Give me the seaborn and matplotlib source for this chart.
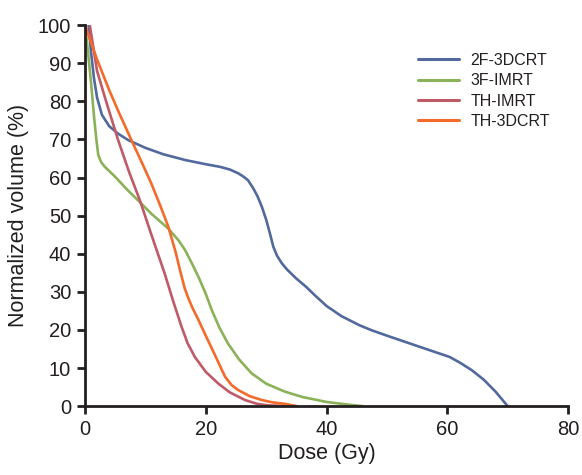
import matplotlib
matplotlib.use("Agg")
import matplotlib.pyplot as plt
import seaborn as sns
import pandas as pd

dose_2f = [0.6, 1.0, 1.5, 2.0, 2.8, 4.0, 5.5, 7.2, 10, 13, 16.6, 20, 22.4, 24, 25.4, 26.2, 27.0, 27.9, 28.6, 29.3, 30.0, 30.6, 31.2, 31.8, 32.6, 33.5, 35, 36.7, 38, 40, 42.5, 45.5, 47.5, 50, 55, 60.4, 62, 64, 66, 68, 70]
vol_2f = [100, 93, 86, 81, 76.5, 73.5, 71.5, 69.8, 67.8, 66.1, 64.6, 63.5, 62.8, 62.1, 61.1, 60.3, 59.3, 57.1, 55, 52.3, 49, 45.5, 41.8, 39.5, 37.5, 35.8, 33.5, 31.2, 29.2, 26.3, 23.6, 21.2, 19.9, 18.5, 15.8, 12.9, 11.5, 9.5, 7, 3.8, 0]

dose_3f = [0, 0.5, 1.0, 1.5, 1.9, 2.2, 2.7, 3.3, 5, 7, 8.8, 11, 13.8, 15.5, 16.6, 17.7, 18.8, 20, 21, 22.3, 23.7, 25.5, 27.6, 30, 33.1, 36, 40, 43, 46]
vol_3f = [100, 93, 85, 76, 69.8, 65.9, 64, 62.8, 60.2, 56.8, 54, 50.5, 46.6, 43.5, 40.9, 37.5, 33.9, 29.5, 25.2, 20.5, 16.4, 12.3, 8.6, 5.9, 3.8, 2.4, 1.1, 0.5, 0]

dose_thi = [0.8, 2, 3.5, 5.5, 7.3, 9.1, 11, 13.2, 14.6, 16, 17, 18.2, 20, 22.1, 24, 26.5, 28.5, 30.3, 33, 35]
vol_thi = [100, 88, 80, 69.8, 61.5, 54, 45, 34.8, 27.6, 20.8, 16.5, 12.9, 9, 5.9, 3.6, 1.6, 0.6, 0.2, 0.05, 0]

dose_th3 = [0, 1, 2, 3, 4, 5.5, 7.7, 9.4, 11, 12.5, 13.8, 15, 15.8, 16.5, 17.1, 17.8, 18.8, 20, 21.5, 23.2, 24.3, 25.4, 27.3, 29.3, 31, 33.1, 35]
vol_th3 = [100, 95.5, 91, 87, 83, 77.5, 69.8, 64, 58.4, 52.5, 47.1, 40.5, 35.3, 31, 28.4, 25.8, 22.6, 18.5, 13.5, 7.7, 5.5, 4.2, 2.6, 1.6, 1.0, 0.6, 0]

labels = ["2F-3DCRT", "3F-IMRT", "TH-IMRT", "TH-3DCRT"]
colors = ["#52699d", "#8bb258", "#bf5a66", "#f46a2a"]

frames = []
for lab, d, v in zip(labels, [dose_2f, dose_3f, dose_thi, dose_th3], [vol_2f, vol_3f, vol_thi, vol_th3]):
    frames.append(pd.DataFrame({"dose": d, "vol": v, "plan": lab}))
df = pd.concat(frames, ignore_index=True)

sns.set_style("ticks")
plt.rcParams["font.family"] = ["Liberation Sans", "DejaVu Sans"]

fig = plt.figure(figsize=(5.82, 4.75), dpi=100)
ax = fig.add_axes([0.146, 0.145, 0.830, 0.802])
sns.lineplot(data=df, x="dose", y="vol", hue="plan", palette=dict(zip(labels, colors)),
             sort=False, estimator=None, linewidth=1.9, ax=ax)
for ln in ax.get_lines():
    ln.set_solid_joinstyle("round")
    ln.set_solid_capstyle("round")

ax.set_xlim(0, 80)
ax.set_ylim(0, 100)
ax.set_xticks([0, 20, 40, 60, 80])
ax.set_yticks(range(0, 101, 10))
ax.set_xlabel("Dose (Gy)", fontsize=15.5, color="#231f20", labelpad=3)
ax.set_ylabel("Normalized volume (%)", fontsize=15.5, color="#231f20", labelpad=6)
ax.tick_params(axis="both", labelsize=14.5, colors="#231f20", width=2, length=6, direction="out", pad=4)
sns.despine(ax=ax)
for s in ["left", "bottom"]:
    ax.spines[s].set_linewidth(2)
    ax.spines[s].set_color("#231f20")
    ax.spines[s].set_clip_on(False)

leg = ax.legend(title=None, loc="upper left", bbox_to_anchor=(0.689, 0.927), frameon=False,
                fontsize=11.5, handlelength=2.6, handletextpad=0.7, labelspacing=0.33,
                borderpad=0, borderaxespad=0)
for line in leg.get_lines():
    line.set_linewidth(2.2)
for t in leg.get_texts():
    t.set_color("#231f20")

fig.savefig("out.png", dpi=100)
